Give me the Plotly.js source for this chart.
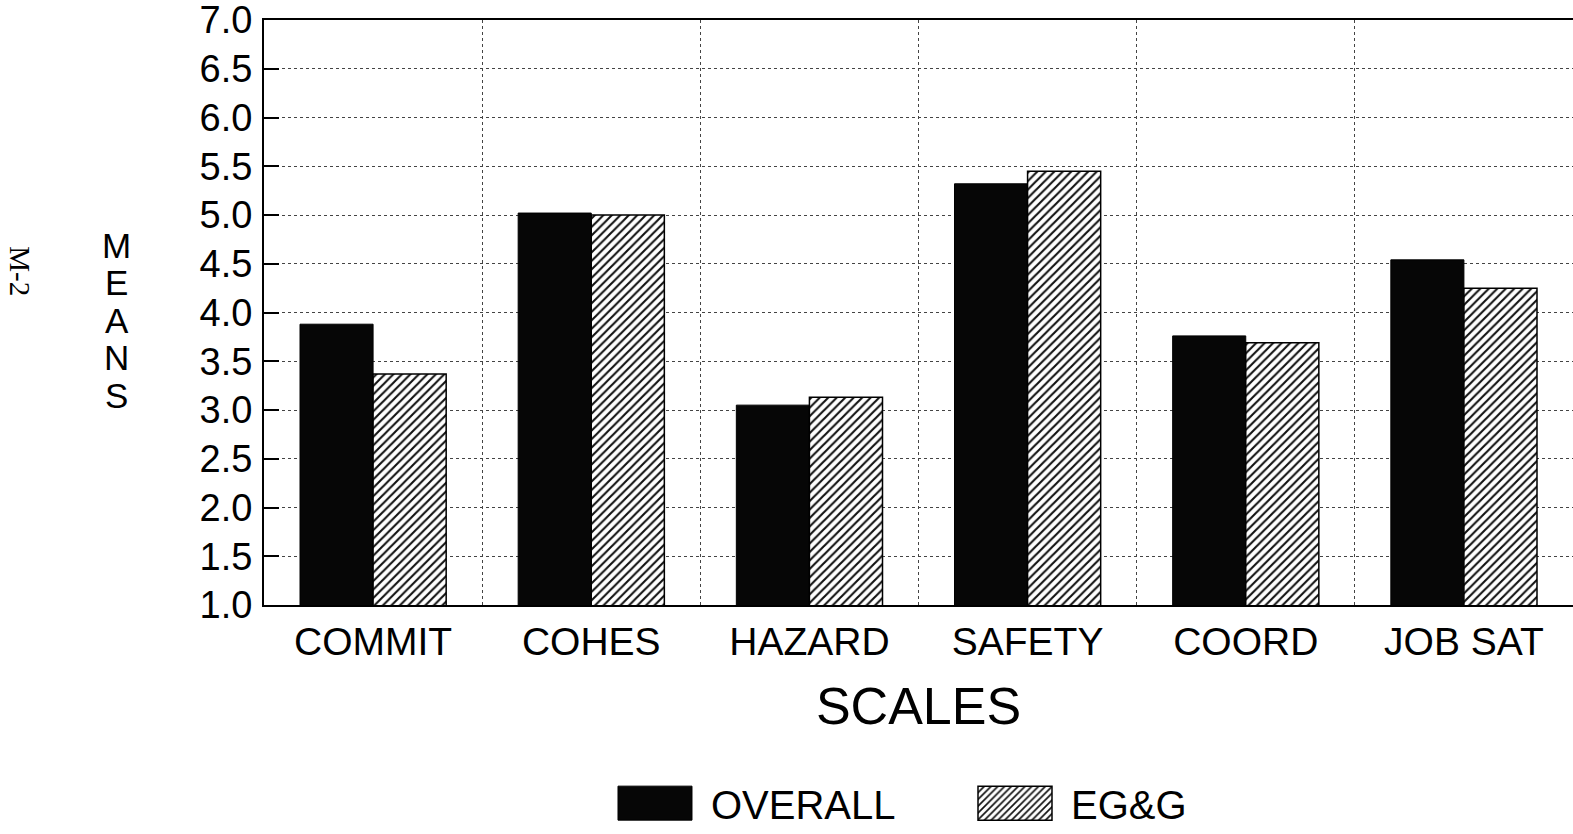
<!DOCTYPE html>
<html>
<head>
<meta charset="utf-8">
<script src="https://cdn.plot.ly/plotly-3.0.1.min.js"></script>
<style>
html,body{margin:0;padding:0;background:#fff;}
#chart{width:1573px;height:834px;}
</style>
</head>
<body>
<div id="chart"></div>
<script>
// ---- data ----
const categories = ["COMMIT", "COHES", "HAZARD", "SAFETY", "COORD", "JOB SAT"];
const overallMeans = [3.88, 5.02, 3.05, 5.32, 3.76, 4.54];
const eggMeans     = [3.37, 5.00, 3.13, 5.45, 3.69, 4.25];
const seriesNames  = ["OVERALL", "EG&G"];
const yTitleLetters = "MEANS";
const xTitle = "SCALES";
const pageLabel = "M-2";

const FONT = "Liberation Sans, Arial, Helvetica, sans-serif";

const traces = [
  {
    type: "bar",
    name: seriesNames[0],
    x: categories,
    y: overallMeans,
    marker: {color: "#060606", line: {color: "#000", width: 1}},
    hoverinfo: "x+y"
  },
  {
    type: "bar",
    name: seriesNames[1],
    x: categories,
    y: eggMeans,
    marker: {
      color: "#ffffff",
      pattern: {shape: "/", fgcolor: "#111", bgcolor: "#fff", size: 6, solidity: 0.35},
      line: {color: "#000", width: 1.5}
    },
    hoverinfo: "x+y"
  }
];

const annotations = [];
yTitleLetters.split("").forEach((ch, i) => {
  annotations.push({
    text: ch, xref: "paper", yref: "paper",
    x: -0.1123, y: 0.487, xanchor: "center", yanchor: "middle",
    yshift: (2 - i) * 37.5,
    showarrow: false,
    font: {family: FONT, size: 35, color: "#000"}
  });
});
annotations.push({
  text: pageLabel, xref: "paper", yref: "paper",
  x: -0.1862, y: 0.57, xanchor: "center", yanchor: "middle",
  textangle: 90, showarrow: false,
  font: {family: "Liberation Serif, Times New Roman, serif", size: 29, color: "#000"}
});

const layout = {
  width: 1573, height: 834,
  margin: {l: 264, r: 0, t: 20, b: 229, pad: 0, autoexpand: false},
  paper_bgcolor: "#fff", plot_bgcolor: "#fff",
  barmode: "group", bargap: 0.33, bargroupgap: 0,
  font: {family: FONT, color: "#000"},
  showlegend: true,
  legend: {
    orientation: "h",
    xref: "container", yref: "container",
    x: 0.3808, y: 0.037, xanchor: "left", yanchor: "middle",
    font: {family: FONT, size: 40, color: "#000"},
    itemwidth: 102, entrywidth: 243, entrywidthmode: "pixels",
    tracegroupgap: 0, traceorder: "normal",
    bgcolor: "rgba(0,0,0,0)"
  },
  xaxis: {
    type: "category",
    tickson: "boundaries",
    ticks: "",
    showgrid: true, gridcolor: "#444", gridwidth: 1, griddash: "dot",
    showline: true, linecolor: "#000", linewidth: 2, mirror: true,
    tickfont: {family: FONT, size: 39, color: "#000"},
    ticklabelstandoff: 1,
    range: [-0.5, 5.5],
    automargin: false,
    title: {text: xTitle, font: {family: FONT, size: 52, color: "#000"}, standoff: 26},
    zeroline: false, fixedrange: true
  },
  yaxis: {
    range: [1, 7], dtick: 0.5, tick0: 1, tickformat: ".1f",
    ticks: "inside", ticklen: 15, tickwidth: 2, tickcolor: "#000",
    showgrid: true, gridcolor: "#444", gridwidth: 1, griddash: "dot",
    showline: true, linecolor: "#000", linewidth: 2, mirror: false,
    tickfont: {family: FONT, size: 38, color: "#000"},
    ticklabelstandoff: 2,
    ticklabeloverflow: "allow",
    automargin: false,
    zeroline: false, fixedrange: true
  },
  annotations: annotations
};

Plotly.newPlot("chart", traces, layout, {displayModeBar: false, staticPlot: true}).then(gd => {
  // enlarge the legend swatches to the wide patches of the reference
  gd.querySelectorAll(".legend .legendpoints path").forEach(p => {
    p.setAttribute("d", "M-37,-17H37V17H-37Z");
  });
});
</script>
</body>
</html>
